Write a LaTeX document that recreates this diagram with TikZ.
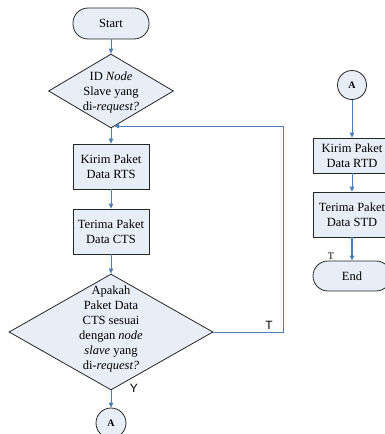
\documentclass[tikz,border=0pt]{standalone}
\usepackage{fontspec}
\setmainfont{Liberation Serif}
\newfontfamily\arialf{Liberation Sans}
\usetikzlibrary{shapes.geometric,arrows.meta}
\definecolor{boxfill}{HTML}{E8EEF7}
\definecolor{conblue}{HTML}{4A7EBB}
\definecolor{edgecol}{HTML}{262626}
\begin{document}
\begin{tikzpicture}[x=1pt,y=-1pt,
  every node/.style={font=\fontsize{12.5}{15}\selectfont},
  box/.style={draw=edgecol, fill=boxfill, line width=0.8pt, minimum width=76pt, minimum height=45pt, inner sep=0pt, align=center},
  term/.style={draw=edgecol, fill=boxfill, line width=0.8pt, rounded corners=15pt, minimum width=76pt, minimum height=31pt, inner sep=0pt},
  dec/.style={diamond, draw=edgecol, fill=boxfill, line width=0.8pt, inner sep=0pt},
  conn/.style={draw=conblue, line width=0.8pt, -{Triangle[length=5pt,width=4.5pt]}},
  circ/.style={circle, draw=edgecol, fill=boxfill, line width=0.8pt, minimum size=30pt, inner sep=0pt, font=\fontsize{10}{12}\selectfont\bfseries},
  dtext/.style={align=center, inner sep=0pt},
  lab/.style={font=\arialf\fontsize{12}{12}\selectfont, inner sep=0pt},
]
\useasboundingbox (0,0) rectangle (385,434);

% left column
\node[term] (start) at (111,23.5) {Start};
\node[dec, minimum width=125pt, minimum height=74pt] (d1) at (111,91) {};
\node[dtext] (d1t) at (111,92) {ID \textit{Node}\\Slave yang\\di-\textit{request?}};
\node[box] (kirim1) at (111,166.5) {Kirim Paket\\Data RTS};
\node[box] (terima1) at (111,231.5) {Terima Paket\\Data CTS};
\node[dec, minimum width=204pt, minimum height=116pt] (d2) at (111,332) {};
\node[dtext] (d2t) at (111,329) {Apakah\\Paket Data\\CTS sesuai\\dengan \textit{node}\\\textit{slave} yang\\di-\textit{request?}};
\node[circ] (a1) at (111,423) {A};

\coordinate (lp) at (283,126);
\coordinate (lpend) at (114,126);

\draw[conn] (start) -- (d1);
\draw[conn] (d1) -- (kirim1);
\draw[conn] (kirim1) -- (terima1);
\draw[conn] (terima1) -- (d2);
\draw[conn] (d2) -- (a1);
\draw[conn] (d2.east) -| (lp) -- (lpend);

\node[lab] (tlab) at (269,325) {T};
\node[lab] (ylab) at (134,388) {Y};

% right column
\node[circ, minimum size=29pt] (a2) at (352,85) {A};
\node[box, minimum width=78pt, minimum height=35pt] (kirim2) at (352,155.5) {Kirim Paket\\Data RTD};
\node[box, minimum width=78pt] (terima2) at (352,214.5) {Terima Paket\\Data STD};
\node[term, minimum width=78pt, minimum height=30pt] (end) at (352,276) {End};

\draw[conn] (a2) -- (kirim2);
\draw[conn] (kirim2) -- (terima2);
\draw[conn, line width=1.6pt] (terima2) -- (end);

\node[font=\fontsize{10}{10}\selectfont, inner sep=0pt] (tend) at (331,256) {T};
\end{tikzpicture}
\end{document}
